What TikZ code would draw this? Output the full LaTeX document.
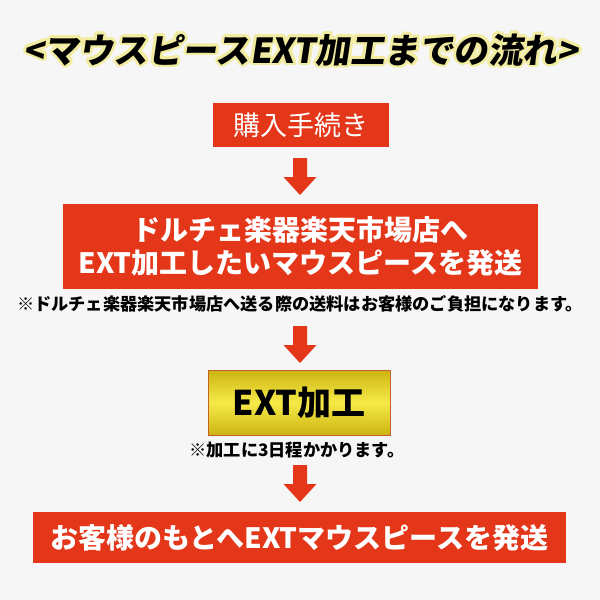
\documentclass[tikz,border=0pt]{standalone}
\usepackage{fontspec}
\newfontfamily\jpfont{Noto Sans CJK JP}
\newfontfamily\titlefont{Noto Sans CJK JP}[FakeSlant=0.15]
\definecolor{bggray}{RGB}{246,246,246}
\definecolor{flowred}{RGB}{228,54,24}
\definecolor{glowyellow}{RGB}{242,236,160}
\definecolor{goldedge}{RGB}{204,180,18}
\definecolor{goldmid}{RGB}{246,234,72}
\definecolor{goldline}{RGB}{196,96,40}
\tikzset{flowarrow/.pic={
    \fill[flowred] (-7,0) -- (7,0) -- (7,19) -- (16.5,19) -- (0,37) -- (-16.5,19) -- (-7,19) -- cycle;
  }}

\begin{document}
\begin{tikzpicture}[x=1pt, y=-1pt,
    titletext/.style={inner sep=0pt, font=\titlefont\bfseries\fontsize{34.5}{36}\selectfont},
    redbox/.style={rectangle, fill=flowred, text=white, inner sep=0pt, align=center},
    notetext/.style={inner sep=0pt, font=\jpfont\bfseries\fontsize{17.2}{20}\selectfont}
    ]
  \useasboundingbox (0,0) rectangle (600,600);
  \fill[bggray] (0,0) rectangle (600,600);
  % title with yellow glow
  \foreach \a in {0,30,...,330}
    \node[titletext, text=glowyellow, shift={(\a:2.8)}] at (301,50) {<マウスピースEXT加工までの流れ>};
  \node[titletext] (title) at (301,50) {<マウスピースEXT加工までの流れ>};
  % steps
  \node[redbox, minimum width=176, minimum height=44, font=\jpfont\fontsize{27}{30}\selectfont] (buy) at (301,125) {購入手続き};
  \node[redbox, minimum width=475, minimum height=85, font=\jpfont\bfseries\fontsize{28}{33}\selectfont] (send) at (300.5,246.5) {ドルチェ楽器楽天市場店へ\\EXT加工したいマウスピースを発送};
  \node[notetext] (sendnote) at (300,304) {※ドルチェ楽器楽天市場店へ送る際の送料はお客様のご負担になります。};
  \node[rectangle, draw=goldline, line width=1pt, top color=goldedge, bottom color=goldedge, middle color=goldmid, minimum width=182, minimum height=65, inner sep=0pt, font=\jpfont\bfseries\fontsize{34}{36}\selectfont] (ext) at (299,402.5) {EXT加工};
  \node[notetext] (extnote) at (297,450) {※加工に3日程かかります。};
  \node[redbox, minimum width=533, minimum height=51, font=\jpfont\bfseries\fontsize{28}{30}\selectfont] (back) at (299.5,537.5) {お客様のもとへEXTマウスピースを発送};
  % arrows
  \foreach \ytop in {158,326,465}
    \pic at (300,\ytop) {flowarrow};
\end{tikzpicture}
\end{document}
